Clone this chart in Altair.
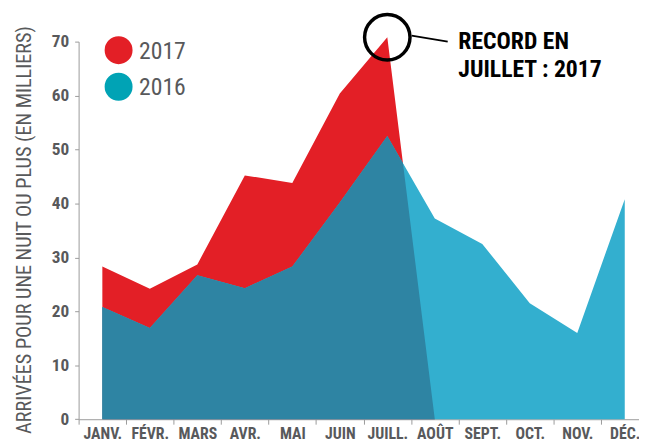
import json
import altair as alt
import pandas as pd

# ---- data ----
months = ["JANV.", "FÉVR.", "MARS", "AVR.", "MAI", "JUIN", "JUILL.", "AOÛT",
          "SEPT.", "OCT.", "NOV.", "DÉC."]
values_2017 = [28.3, 24.2, 28.7, 45.2, 43.8, 60.4, 70.8, 0.0]
values_2016 = [20.8, 16.9, 26.7, 24.3, 28.3, 40.2, 52.5, 37.2, 32.5, 21.5, 16.0, 40.8]
y_ticks = [0, 10, 20, 30, 40, 50, 60, 70]
legend_labels = ["2017", "2016"]
annotation_lines = ["RECORD EN", "JUILLET : 2017"]
y_title = "ARRIVÉES POUR UNE NUIT OU PLUS (EN MILLIERS)"

# ---- styling ----
FONT = "Roboto Condensed"
RED = "#E31F26"
TEAL_LIGHT = "#33AFCF"
TEAL_DARK = "#2E84A3"
TEAL_LEGEND = "#00A3B5"
GRAY = "#58595B"
AXIS_GRAY = "#9A9A9A"

W, H = 567.5, 382.4
X_MIN, X_MAX = -0.5, 11.3
step = W / (X_MAX - X_MIN)

df17 = pd.DataFrame({"m": list(range(len(values_2017))), "v": values_2017})
df16 = pd.DataFrame({"m": list(range(len(values_2016))), "v": values_2016})


def overlap(a, b):
    """Region lying under both piecewise-linear series (with crossing points)."""
    n = min(len(a), len(b))
    pts = []
    for i in range(n):
        pts.append((i, min(a[i], b[i])))
        if i + 1 < n:
            d0 = a[i] - b[i]
            d1 = a[i + 1] - b[i + 1]
            if d0 * d1 < 0:
                t = d0 / (d0 - d1)
                pts.append((i + t, a[i] + t * (a[i + 1] - a[i])))
    return pd.DataFrame(pts, columns=["m", "v"])


df_ov = overlap(values_2017, values_2016)

peak_i = max(range(len(values_2017)), key=lambda i: values_2017[i])
df_peak = pd.DataFrame({"m": [peak_i], "v": [values_2017[peak_i]]})

label_expr = json.dumps(months) + "[round(datum.value + 0.5)]"

x_enc = alt.X(
    "m:Q",
    scale=alt.Scale(domain=[X_MIN, X_MAX], nice=False, zero=False),
    axis=alt.Axis(
        values=[i - 0.5 for i in range(len(months))],
        labelExpr=label_expr,
        labelOffset=step / 2,
        title=None,
        grid=False,
        tickSize=5,
        tickColor=AXIS_GRAY,
        domainColor=AXIS_GRAY,
        labelFont=FONT,
        labelFontSize=16,
        labelFontWeight="bold",
        labelColor=GRAY,
        labelPadding=2,
        labelFlush=False,
        labelOverlap=False,
        labelAlign="center",
    ),
)
y_enc = alt.Y(
    "v:Q",
    scale=alt.Scale(domain=[0, 70], nice=False),
    axis=alt.Axis(
        values=y_ticks,
        title=y_title,
        grid=False,
        tickSize=4,
        tickColor=AXIS_GRAY,
        domainColor=AXIS_GRAY,
        labelFont=FONT,
        labelFontSize=17.5,
        labelFontWeight="bold",
        labelColor=GRAY,
        labelPadding=6,
        titleFont=FONT,
        titleFontSize=20.5,
        titleFontWeight="normal",
        titleColor=GRAY,
        titleAngle=270,
        titleBaseline="alphabetic",
        titleX=-49,
        titleY=H / 2 - 1,
    ),
)

area17 = alt.Chart(df17).mark_area(color=RED).encode(x=x_enc, y=y_enc)
area16 = alt.Chart(df16).mark_area(color=TEAL_LIGHT).encode(x="m:Q", y="v:Q")
area_ov = alt.Chart(df_ov).mark_area(color=TEAL_DARK).encode(x="m:Q", y="v:Q")

ring = alt.Chart(df_peak).mark_point(
    shape="circle", filled=False, stroke="black", strokeWidth=3.5, size=2116, opacity=1
).encode(x="m:Q", y="v:Q")

leader = alt.Chart(df_peak).mark_rule(color="black", strokeWidth=1.8).encode(
    x=alt.value(337.2), x2=alt.value(373.8), y=alt.value(-6), y2=alt.value(0)
)

ann1 = alt.Chart(df_peak).mark_text(
    text=annotation_lines[0], font=FONT, fontSize=24, fontWeight="bold",
    color="black", align="left", baseline="alphabetic"
).encode(x=alt.value(384.5), y=alt.value(7.4))
ann2 = alt.Chart(df_peak).mark_text(
    text=annotation_lines[1], font=FONT, fontSize=24, fontWeight="bold",
    color="black", align="left", baseline="alphabetic"
).encode(x=alt.value(384.5), y=alt.value(35.7))

leg_dot1 = alt.Chart(df_peak).mark_point(
    shape="circle", filled=True, color=RED, size=800, opacity=1
).encode(x=alt.value(40.5), y=alt.value(8.7))
leg_dot2 = alt.Chart(df_peak).mark_point(
    shape="circle", filled=True, color=TEAL_LEGEND, size=800, opacity=1
).encode(x=alt.value(40.5), y=alt.value(45.7))
leg_txt1 = alt.Chart(df_peak).mark_text(
    text=legend_labels[0], font=FONT, fontSize=24, color=GRAY,
    align="left", baseline="alphabetic"
).encode(x=alt.value(61.2), y=alt.value(17.4))
leg_txt2 = alt.Chart(df_peak).mark_text(
    text=legend_labels[1], font=FONT, fontSize=24, color=GRAY,
    align="left", baseline="alphabetic"
).encode(x=alt.value(61.2), y=alt.value(54.0))

chart = alt.layer(
    area17, area16, area_ov, ring, leader, ann1, ann2,
    leg_dot1, leg_dot2, leg_txt1, leg_txt2
).properties(
    width=W,
    height=H,
    autosize=alt.AutoSizeParams(type="none"),
    padding={"left": 71.5, "top": 31.3, "right": 0, "bottom": 20.3},
).configure_view(strokeWidth=0)

chart.save("out.html", embed_options={"renderer": "svg", "actions": False})
